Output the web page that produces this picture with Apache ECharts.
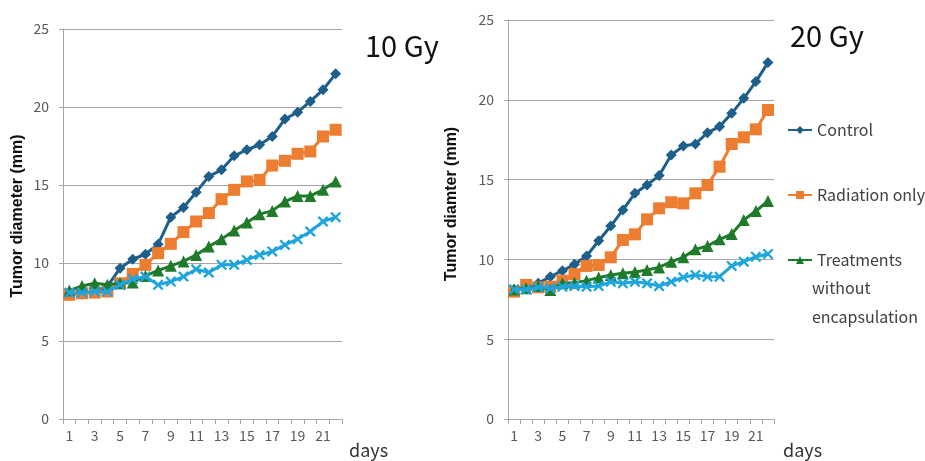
<!DOCTYPE html>
<html><head><meta charset="utf-8">
<script src="https://cdn.jsdelivr.net/npm/echarts@6/dist/echarts.min.js"></script>
<style>html,body{margin:0;padding:0;background:#fff}#c{width:925px;height:461px}</style>
</head><body><div id="c"></div>
<script>
const days = ['1','2','3','4','5','6','7','8','9','10','11','12','13','14','15','16','17','18','19','20','21','22'];
const seriesNames = ['Control', 'Radiation only', 'Treatments\nwithout\nencapsulation', 'Encapsulated treatment'];
// 10 Gy
const control10   = [8.06,8.0,8.2,8.5,9.67,10.24,10.56,11.2,12.94,13.56,14.54,15.55,15.97,16.87,17.26,17.58,18.11,19.23,19.67,20.36,21.1,22.13];
const radiation10 = [7.96,8.06,8.1,8.17,8.7,9.3,9.88,10.63,11.23,11.98,12.66,13.2,14.09,14.69,15.23,15.33,16.25,16.55,17.0,17.15,18.11,18.54];
const treatNoEnc10= [8.23,8.53,8.7,8.6,8.7,8.75,9.17,9.52,9.82,10.1,10.52,11.06,11.53,12.08,12.6,13.13,13.34,13.94,14.3,14.3,14.69,15.23];
const encaps10    = [8.1,8.1,8.17,8.17,8.6,8.96,9.13,8.6,8.81,9.13,9.6,9.39,9.88,9.88,10.2,10.52,10.74,11.16,11.53,12.02,12.66,12.94];
// 20 Gy
const control20   = [8.12,8.25,8.5,8.92,9.29,9.69,10.21,11.17,12.09,13.1,14.14,14.66,15.25,16.54,17.1,17.23,17.94,18.32,19.15,20.09,21.14,22.33];
const radiation20 = [7.98,8.4,8.25,8.29,8.67,9.08,9.59,9.65,10.13,11.22,11.57,12.51,13.2,13.58,13.51,14.14,14.66,15.81,17.23,17.65,18.15,19.36];
const treatNoEnc20= [8.12,8.19,8.33,8.08,8.5,8.54,8.67,8.86,9.02,9.13,9.21,9.34,9.5,9.86,10.13,10.63,10.84,11.26,11.59,12.47,13.03,13.66];
const encaps20    = [8.12,8.12,8.25,8.19,8.29,8.33,8.29,8.33,8.6,8.5,8.6,8.5,8.33,8.6,8.88,9.02,8.92,8.92,9.59,9.86,10.17,10.34];
const yTicks = [0,5,10,15,20,25];

const colors = ['#1d5f8a','#ed7d31','#1f7a2a','#1ea5df'];
const symbols = ['diamond','rect','triangle','path://M0,1.5L1.5,0L5,3.5L8.5,0L10,1.5L6.5,5L10,8.5L8.5,10L5,6.5L1.5,10L0,8.5L3.5,5Z'];
const symSizes = [11,12,12,11];
const tickFont = {fontFamily:'Noto Sans CJK JP', fontSize:14, color:'#595959'};

const grids = [
  {left:63, top:29, width:279, height:390},
  {left:508, top:20, width:266, height:399}
];
function xAx(i){return {type:'category', gridIndex:i, data:days, boundaryGap:true,
  axisLine:{lineStyle:{color:'#a6a6a6',width:1}},
  axisTick:{show:true, interval:0, length:5, lineStyle:{color:'#a6a6a6'}},
  axisLabel:Object.assign({interval:1, margin:10}, tickFont)};}
function yAx(i){return {type:'value', gridIndex:i, min:yTicks[0], max:yTicks[yTicks.length-1], interval:5,
  axisLine:{show:true, lineStyle:{color:'#a6a6a6',width:1}},
  axisTick:{show:true, length:4, lineStyle:{color:'#a6a6a6'}},
  splitLine:{lineStyle:{color:'#a6a6a6',width:1.2}},
  axisLabel:Object.assign({margin:14}, tickFont)};}

const data10 = [control10, radiation10, treatNoEnc10, encaps10];
const data20 = [control20, radiation20, treatNoEnc20, encaps20];
const series = [];
[data10, data20].forEach((set, gi) => {
  set.forEach((vals, si) => {
    series.push({type:'line', name:seriesNames[si], xAxisIndex:gi, yAxisIndex:gi, data:vals,
      symbol:symbols[si], symbolSize:symSizes[si], showSymbol:true, showAllSymbol:true,
      lineStyle:{color:colors[si], width:3}, itemStyle:{color:colors[si]},
      z: 2 + si, animation:false});
  });
});

const chart = echarts.init(document.getElementById('c'), null, {renderer:'canvas'});
chart.setOption({
  animation:false,
  grid:grids,
  xAxis:[xAx(0), xAx(1)],
  yAxis:[yAx(0), yAx(1)],
  legend:{data:seriesNames.slice(0,3), orient:'vertical', left:787, top:120, padding:0, itemWidth:24, itemHeight:10, itemGap:45,
    formatter:n => n.split('\n')[0],
    textStyle:{fontFamily:'Noto Sans CJK JP', fontSize:16, color:'#404040', lineHeight:20}},
  graphic:[
    {type:'text', left:365, top:31, style:{text:'10 Gy', fontFamily:'Noto Sans CJK JP', fontSize:29, fill:'#111'}},
    {type:'text', left:790, top:21, style:{text:'20 Gy', fontFamily:'Noto Sans CJK JP', fontSize:29, fill:'#111'}},
    {type:'text', left:812, top:280, style:{text:'without', fontFamily:'Noto Sans CJK JP', fontSize:16, fill:'#404040'}},
    {type:'text', left:812, top:309, style:{text:'encapsulation', fontFamily:'Noto Sans CJK JP', fontSize:16, fill:'#404040'}},
    {type:'text', x:18, y:216, rotation:Math.PI/2, style:{text:'Tumor diameter (mm)', fontFamily:'Liberation Sans', fontWeight:'bold', fontSize:16, fill:'#111', align:'center', verticalAlign:'middle'}},
    {type:'text', x:452, y:204, rotation:Math.PI/2, style:{text:'Tumor diamter (mm)', fontFamily:'Liberation Sans', fontWeight:'bold', fontSize:16, fill:'#111', align:'center', verticalAlign:'middle'}},
    {type:'text', left:349, top:441, style:{text:'days', fontFamily:'Noto Sans CJK JP', fontSize:18, fill:'#333'}},
    {type:'text', left:783, top:441, style:{text:'days', fontFamily:'Noto Sans CJK JP', fontSize:18, fill:'#333'}}
  ],
  series:series
});
</script></body></html>
